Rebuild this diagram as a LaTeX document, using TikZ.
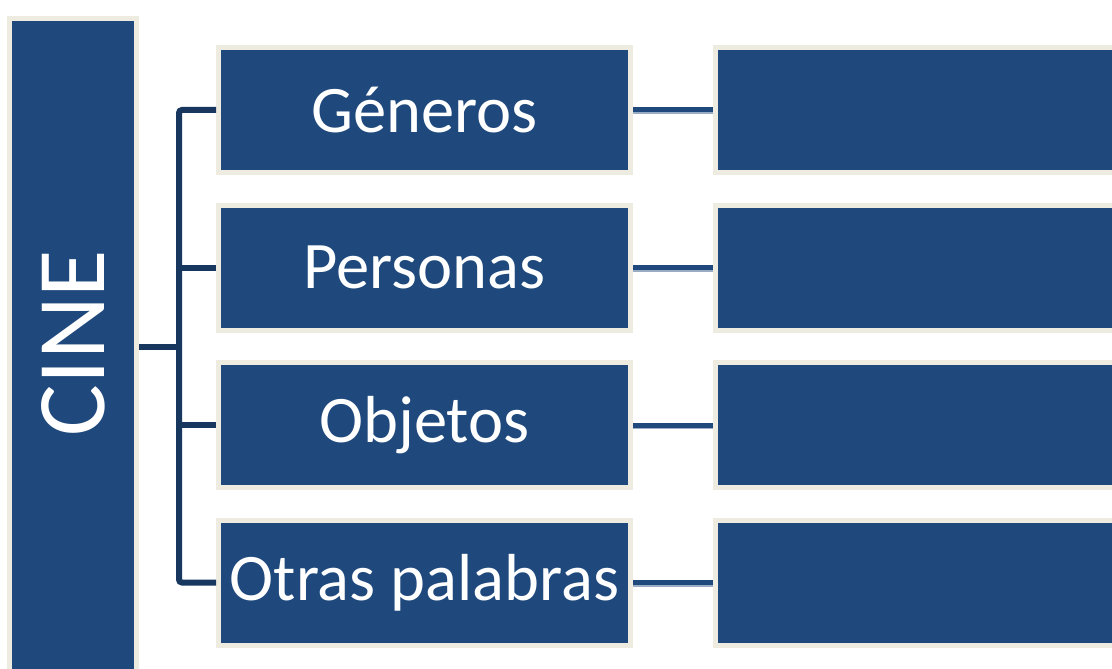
\documentclass[tikz,border=0pt]{standalone}
\usepackage{fontspec}
\setmainfont{Carlito}
\definecolor{boxblue}{HTML}{1F497D}
\definecolor{cream}{HTML}{EEECE1}
\definecolor{treeblue}{HTML}{17375E}
\definecolor{shadowblue}{HTML}{9AABC4}
\tikzset{
  box/.style={draw=cream, line width=5pt, fill=boxblue, text=white, inner sep=0pt,
    minimum width=412pt, minimum height=125pt, font=\fontsize{66.5}{78}\selectfont},
  emptybox/.style={draw=cream, line width=5pt, fill=boxblue, inner sep=0pt,
    minimum width=420pt, minimum height=125pt},
  tree/.style={draw=treeblue, line width=6pt, rounded corners=3pt},
  link/.style={draw=boxblue, line width=5pt},
  linkshadow/.style={draw=shadowblue, line width=3pt}
}
\begin{document}
\begin{tikzpicture}[x=1pt,y=-1pt]
\useasboundingbox (0,0) rectangle (1112,669);
\clip (0,0) rectangle (1112,669);
\fill[white] (0,0) rectangle (1112,669);
% CINE column
\node[draw=cream, line width=5pt, fill=boxblue, inner sep=0pt,
  minimum width=127pt, minimum height=700pt, anchor=north] (cine) at (73,16.5) {};
\node[text=white, rotate=90, font=\fontsize{97}{110}\selectfont] (cinetext) at (73,343) {CINE};
% middle column
\node[box] (g) at (424.5,110) {Géneros};
\node[box] (p) at (424.5,267.5) {Personas};
\node[box] (o) at (424.5,425) {Objetos};
\node[box] (w) at (424.5,582.5) {Otras palabras};
% right column
\node[emptybox, anchor=west] (g2) at (712.5,110) {};
\node[emptybox, anchor=west] (p2) at (712.5,267.5) {};
\node[emptybox, anchor=west] (o2) at (712.5,425) {};
\node[emptybox, anchor=west] (w2) at (712.5,582.5) {};
% tree
\coordinate (j) at (179,347);
\draw[tree] (g.west) -| (j) |- (w.west);
\draw[tree] (p.west) -- (p.west -| j);
\draw[tree] (o.west) -- (o.west -| j);
\draw[tree] (cine.east |- j) -- (j);
% links
\foreach \a/\b in {g/g2,p/p2,o/o2,w/w2}{
  \draw[linkshadow] ([yshift=-2.5pt]\a.east) -- ([yshift=-2.5pt]\b.west);
  \draw[link] (\a.east) -- (\b.west);
}
\end{tikzpicture}
\end{document}
